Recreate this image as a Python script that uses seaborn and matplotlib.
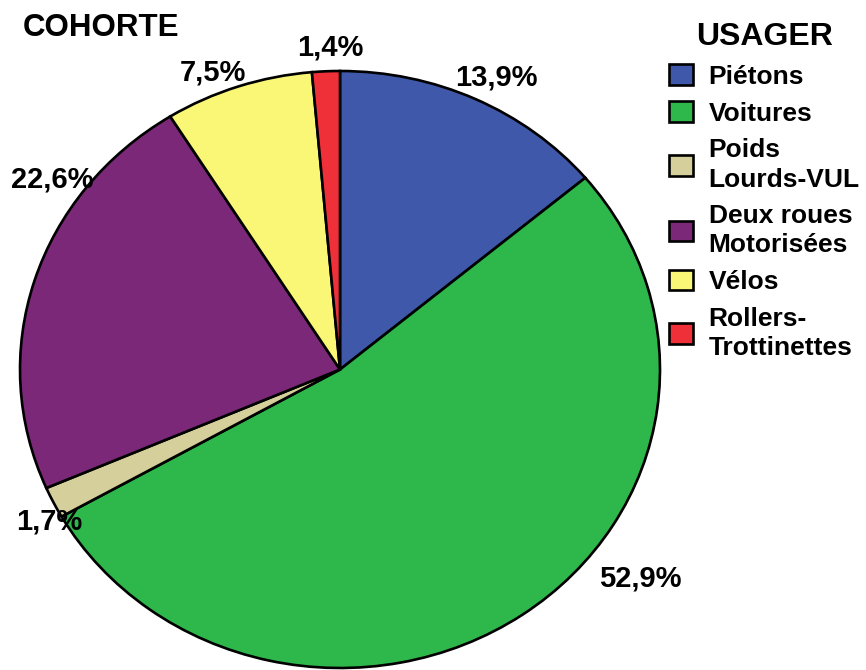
import matplotlib
matplotlib.use("Agg")
import matplotlib.pyplot as plt
import seaborn as sns
from matplotlib.patches import Patch

# data
categories = ["Piétons", "Voitures", "Poids\nLourds-VUL", "Deux roues\nMotorisées", "Vélos", "Rollers-\nTrottinettes"]
shares = [13.9, 52.9, 1.7, 22.6, 7.5, 1.4]
colors = ["#3F58A9", "#2EB84B", "#D5CF9B", "#7B2878", "#F9F775", "#EF3039"]

# where each percentage label sits (data coords of the pie axes)
label_pos = [(0.49, 0.978), (0.9375, -0.70), (-0.91, -0.51), (-0.90, 0.637), (-0.397, 0.995), (-0.031, 1.079)]

sns.set_theme(style="white")
plt.rcParams["font.family"] = ["Liberation Sans", "DejaVu Sans"]
plt.rcParams["text.color"] = "black"

fig = plt.figure(figsize=(8.66, 6.70), dpi=100)
ax = fig.add_axes([20 / 866, 2 / 670, 640 / 866, 597 / 670])

wedges, texts, autotexts = ax.pie(
    shares,
    colors=colors,
    startangle=90,
    counterclock=False,
    radius=1.0,
    autopct=lambda p: f"{p:.1f}%".replace(".", ","),
    wedgeprops={"edgecolor": "black", "linewidth": 1.9},
    textprops={"fontsize": 21, "fontweight": "bold", "color": "black"},
)
for t, (x, y) in zip(autotexts, label_pos):
    t.set_position((x, y))
    t.set_clip_on(False)

ax.set_aspect("auto")
ax.set_xlim(-1, 1)
ax.set_ylim(-1, 1)
ax.axis("off")

fig.text(23 / 866, 1 - 28 / 670, "COHORTE", fontsize=22.5, fontweight="bold",
         color="black", ha="left", va="center")

handles = [Patch(facecolor=c, edgecolor="black", linewidth=1.9) for c in colors]
leg = fig.legend(
    handles,
    categories,
    loc="upper left",
    bbox_to_anchor=(669 / 866, 1 - 22 / 670),
    frameon=False,
    title="USAGER",
    prop={"size": 19, "weight": "bold"},
    title_fontproperties={"size": 23, "weight": "bold"},
    handlelength=0.9,
    handleheight=0.83,
    handletextpad=0.6,
    labelspacing=0.47,
    borderpad=0,
    borderaxespad=0,
)
leg.get_title().set_color("black")
for t in leg.get_texts():
    t.set_linespacing(1.28)
    t.set_color("black")

fig.savefig("out.png", dpi=100)
